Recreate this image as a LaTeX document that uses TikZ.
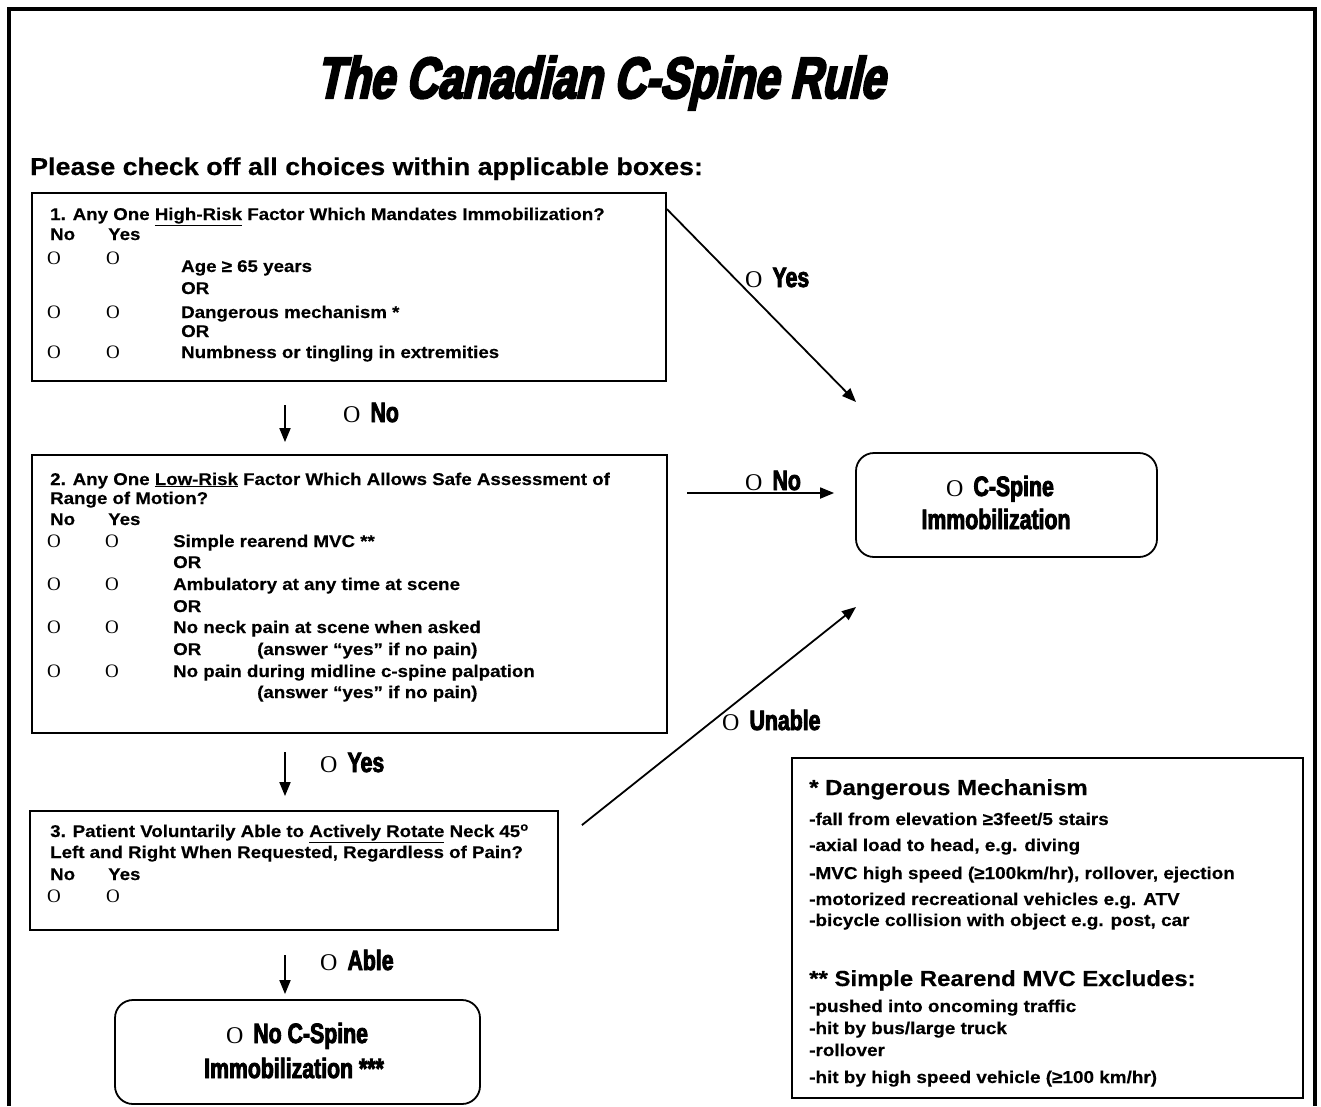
\documentclass[tikz,border=0pt]{standalone}
\usepackage{fontspec}
\usetikzlibrary{arrows.meta,calc}
\setmainfont{Liberation Sans}[FakeStretch=1.1,FakeBold=0.4]
\newfontfamily\circfont{Liberation Serif}
\newfontfamily\heavyfont{Liberation Sans Bold}[FakeStretch=0.76,FakeBold=3]
\newfontfamily\titlefont{Liberation Sans Bold}[FakeStretch=0.75,FakeSlant=0.22,FakeBold=4]

% check circle inside the question boxes
\newcommand{\ckO}{{\circfont\fontsize{19}{19}\selectfont O}}
% branch label: serif circle followed by a heavy condensed word
\newcommand{\brlabel}[1]{{\circfont\fontsize{24}{24}\selectfont O}\hspace{10pt}{\heavyfont\fontsize{28}{28}\selectfont #1}}

\begin{document}
\begin{tikzpicture}[x=1pt,y=-1pt,
  qbox/.style={draw, line width=1.8pt, inner sep=0pt},
  rbox/.style={draw, line width=1.8pt, rounded corners=18pt, inner sep=0pt},
  txt/.style={inner sep=0pt, anchor=base west, font=\fontsize{17}{20}\selectfont\bfseries},
  ftxt/.style={inner sep=0pt, anchor=base west, font=\fontsize{17.2}{20}\selectfont\bfseries},
  fhead/.style={inner sep=0pt, anchor=base west, font=\fontsize{21.8}{24}\selectfont\bfseries},
  ckm/.style={inner sep=0pt, anchor=base west},
  blab/.style={inner sep=0pt, anchor=base west},
  otxt/.style={inner sep=0pt, anchor=base, font=\heavyfont\fontsize{28}{28}\selectfont},
  flow/.style={line width=1.8pt, -{Triangle[length=14pt,width=11pt]}}]

\useasboundingbox (0,0) rectangle (1321,1106);

% outer frame (open at the bottom)
\draw[line width=4pt] (9,1106) -- (9,9) -- (1315,9) -- (1315,1106);

% title and instruction
\node[inner sep=0pt, anchor=base west, font=\titlefont\fontsize{58}{58}\selectfont] (title) at (316,98) {The Canadian C-Spine Rule};
\node[inner sep=0pt, anchor=base west, font=\fontsize{24.4}{28}\selectfont\bfseries] (instr) at (30,175) {Please check off all choices within applicable boxes:};

% ---------- box 1 ----------
\node[qbox, minimum width=634pt, minimum height=188pt] (q1) at (349,287) {};
\node[txt] (q1t) at (50,220) {1. Any One \underline{High-Risk} Factor Which Mandates Immobilization?};
\node[txt] (q1no) at (50,240) {No};
\node[txt] (q1yes) at (108,240) {Yes};
\node[ckm] (q1a1) at (47,264) {\ckO}; \node[ckm] (q1a2) at (106,264) {\ckO};
\node[txt] (q1age) at (181,272) {Age ≥ 65 years};
\node[txt] (q1or1) at (181,294) {OR};
\node[ckm] (q1b1) at (47,318) {\ckO}; \node[ckm] (q1b2) at (106,318) {\ckO};
\node[txt] (q1dm) at (181,318) {Dangerous mechanism *};
\node[txt] (q1or2) at (181,337) {OR};
\node[ckm] (q1c1) at (47,358) {\ckO}; \node[ckm] (q1c2) at (106,358) {\ckO};
\node[txt] (q1nt) at (181,358) {Numbness or tingling in extremities};

% ---------- box 2 ----------
\node[qbox, minimum width=635pt, minimum height=278pt] (q2) at (349.5,594) {};
\node[txt] (q2t) at (50,485) {2. Any One \underline{Low-Risk} Factor Which Allows Safe Assessment of};
\node[txt] (q2t2) at (50,504) {Range of Motion?};
\node[txt] (q2no) at (50,525) {No};
\node[txt] (q2yes) at (108,525) {Yes};
\node[ckm] (q2a1) at (47,547) {\ckO}; \node[ckm] (q2a2) at (105,547) {\ckO};
\node[txt] (q2sr) at (173,547) {Simple rearend MVC **};
\node[txt] (q2or1) at (173,568) {OR};
\node[ckm] (q2b1) at (47,590) {\ckO}; \node[ckm] (q2b2) at (105,590) {\ckO};
\node[txt] (q2am) at (173,590) {Ambulatory at any time at scene};
\node[txt] (q2or2) at (173,612) {OR};
\node[ckm] (q2c1) at (47,633) {\ckO}; \node[ckm] (q2c2) at (105,633) {\ckO};
\node[txt] (q2np) at (173,633) {No neck pain at scene when asked};
\node[txt] (q2or3) at (173,655) {OR};
\node[txt] (q2an1) at (257,655) {(answer “yes” if no pain)};
\node[ckm] (q2d1) at (47,677) {\ckO}; \node[ckm] (q2d2) at (105,677) {\ckO};
\node[txt] (q2mp) at (173,677) {No pain during midline c-spine palpation};
\node[txt] (q2an2) at (257,698) {(answer “yes” if no pain)};

% ---------- box 3 ----------
\node[qbox, minimum width=528pt, minimum height=119pt] (q3) at (294,870.5) {};
\node[txt] (q3t) at (50,837) {3. Patient Voluntarily Able to \underline{Actively Rotate} Neck 45\textsuperscript{o}};
\node[txt] (q3t2) at (50,858) {Left and Right When Requested, Regardless of Pain?};
\node[txt] (q3no) at (50,880) {No};
\node[txt] (q3yes) at (108,880) {Yes};
\node[ckm] (q3a1) at (47,902) {\ckO}; \node[ckm] (q3a2) at (106,902) {\ckO};

% ---------- outcome boxes ----------
\node[rbox, minimum width=301pt, minimum height=104pt] (imm) at (1006.5,505) {};
\node[inner sep=0pt, anchor=base] (imm1) at (1000,496) {{\circfont\fontsize{24}{24}\selectfont O}\hspace{10pt}{\heavyfont\fontsize{28}{28}\selectfont C-Spine}};
\node[otxt] (imm2) at (996,529) {Immobilization};

\node[rbox, minimum width=365pt, minimum height=104pt] (noimm) at (297.5,1052) {};
\node[inner sep=0pt, anchor=base] (noimm1) at (297,1043) {{\circfont\fontsize{24}{24}\selectfont O}\hspace{10pt}{\heavyfont\fontsize{28}{28}\selectfont No C-Spine}};
\node[otxt] (noimm2) at (294,1078) {Immobilization ***};

% ---------- footnotes ----------
\node[qbox, minimum width=511pt, minimum height=340pt] (fn) at (1047.5,928) {};
\node[fhead] (fn1) at (809,795) {* Dangerous Mechanism};
\node[ftxt] (fn1a) at (809,825) {-fall from elevation ≥3feet/5 stairs};
\node[ftxt] (fn1b) at (809,851) {-axial load to head, e.g. diving};
\node[ftxt] (fn1c) at (809,879) {-MVC high speed (≥100km/hr), rollover, ejection};
\node[ftxt] (fn1d) at (809,905) {-motorized recreational vehicles e.g. ATV};
\node[ftxt] (fn1e) at (809,926) {-bicycle collision with object e.g. post, car};
\node[fhead] (fn2) at (809,986) {** Simple Rearend MVC Excludes:};
\node[ftxt] (fn2a) at (809,1012) {-pushed into oncoming traffic};
\node[ftxt] (fn2b) at (809,1034) {-hit by bus/large truck};
\node[ftxt] (fn2c) at (809,1056) {-rollover};
\node[ftxt] (fn2d) at (809,1083) {-hit by high speed vehicle (≥100 km/hr)};

% ---------- connectors ----------
\coordinate (yesS) at ($(q1.north east)+(0,17)$);
\coordinate (yesE) at (856,402);
\draw[flow] (yesS) -- (yesE);
\node[blab] (lyes1) at (745,287) {\brlabel{Yes}};

\coordinate (noS) at (687,493);
\coordinate (noE) at ($(noS -| imm.west)+(-21,0)$);
\draw[flow] (noS) -- (noE);
\node[blab] (lno2) at (745,490) {\brlabel{No}};

\coordinate (unS) at ($(q3.north east)+(23,15)$);
\coordinate (unE) at (856,607);
\draw[flow] (unS) -- (unE);
\node[blab] (lun) at (722,730) {\brlabel{Unable}};

\coordinate (d1S) at (285,405);
\coordinate (d1E) at ($(d1S |- q2.north)+(0,-12)$);
\draw[flow] (d1S) -- (d1E);
\node[blab] (lno1) at (343,422) {\brlabel{No}};

\coordinate (d2S) at (285,752);
\coordinate (d2E) at ($(d2S |- q3.north)+(0,-14)$);
\draw[flow] (d2S) -- (d2E);
\node[blab] (lyes2) at (320,772) {\brlabel{Yes}};

\coordinate (d3S) at (285,955);
\coordinate (d3E) at ($(d3S |- noimm.north)+(0,-5)$);
\draw[flow] (d3S) -- (d3E);
\node[blab] (lable) at (320,970) {\brlabel{Able}};

\end{tikzpicture}
\end{document}
